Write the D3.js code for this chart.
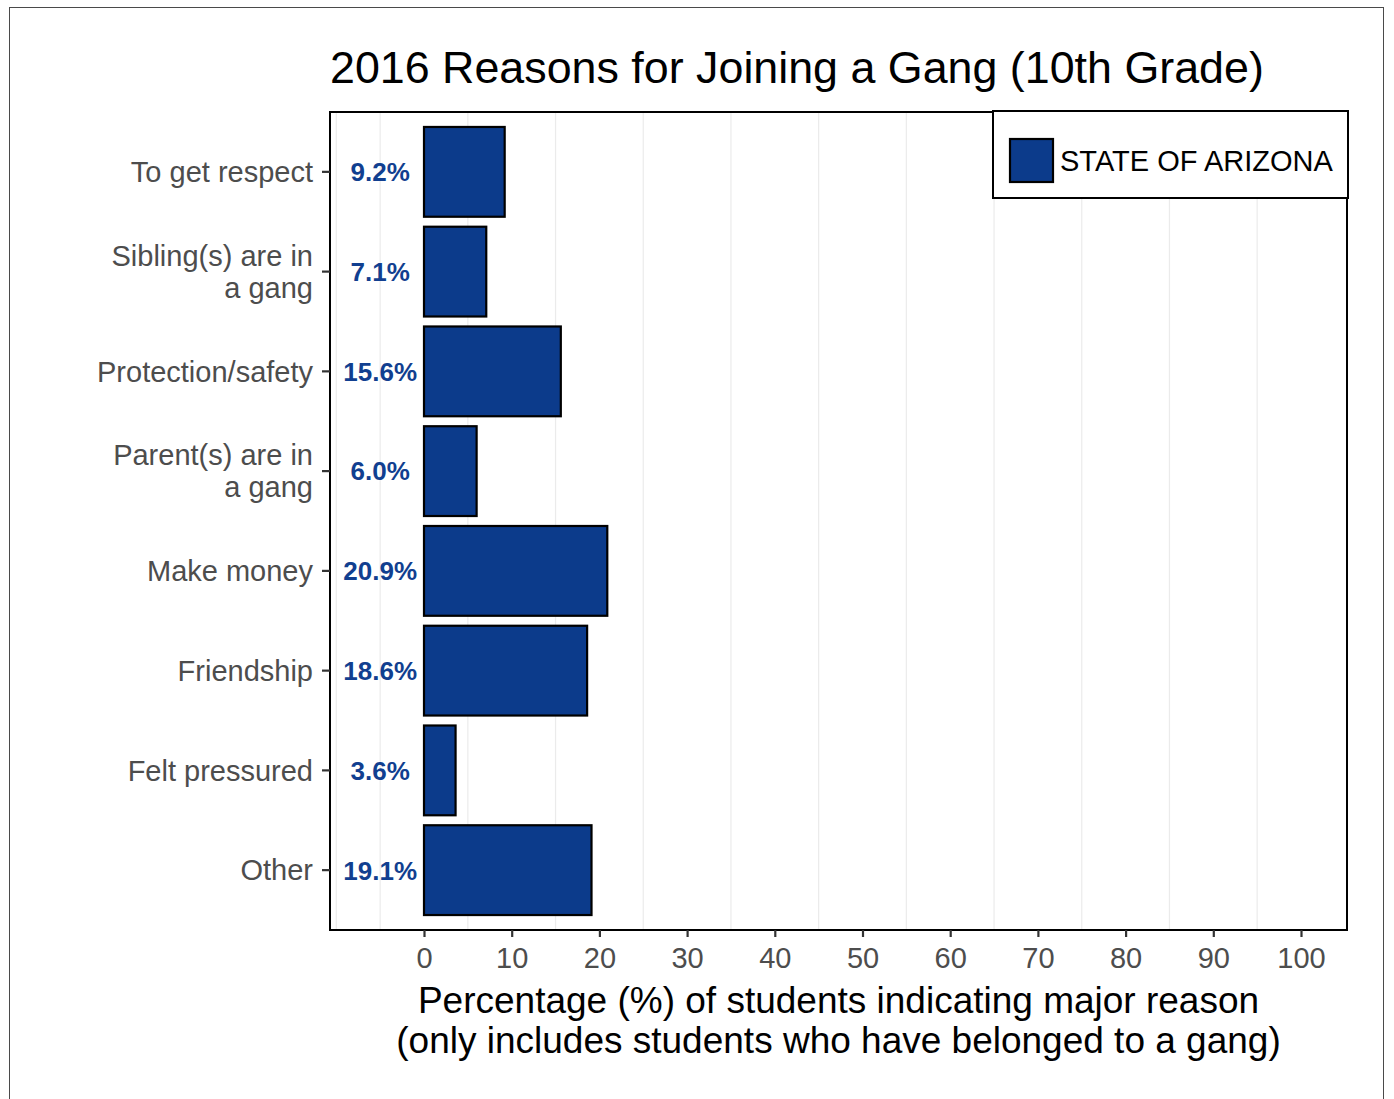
<!DOCTYPE html>
<html>
<head>
<meta charset="utf-8">
<script src="https://cdn.jsdelivr.net/npm/d3@7"></script>
<style>
  html, body { margin: 0; padding: 0; background: #fff; }
  svg { display: block; font-family: "Liberation Sans", Arial, Helvetica, sans-serif; }
</style>
</head>
<body>
<svg id="chart" width="1394" height="1099"></svg>
<script>
// Reasons for joining a gang, 10th grade, 2016
const categories = [
  "To get respect",
  "Sibling(s) are in\na gang",
  "Protection/safety",
  "Parent(s) are in\na gang",
  "Make money",
  "Friendship",
  "Felt pressured",
  "Other"
];
const values = [9.2, 7.1, 15.6, 6.0, 20.9, 18.6, 3.6, 19.1];
const valueLabels = ["9.2%", "7.1%", "15.6%", "6.0%", "20.9%", "18.6%", "3.6%", "19.1%"];
const xTicks = [0, 10, 20, 30, 40, 50, 60, 70, 80, 90, 100];
const gridValues = [-10, -5, 5, 15, 25, 35, 45, 55, 65, 75, 85, 95];
const seriesName = "STATE OF ARIZONA";

const barFill = "#0c3b8b";
const labelColor = "#113f90";

const svg = d3.select("#chart");

// outer frame of the figure
svg.append("rect")
  .attr("x", 9.5).attr("y", 7.5)
  .attr("width", 1374).attr("height", 1110)
  .attr("fill", "none").attr("stroke", "#4a4a4a").attr("stroke-width", 1);

const panel = { left: 330, right: 1347, top: 112, bottom: 930 };

const x = d3.scaleLinear().domain([0, 100]).range([424, 1301]);
const y = d3.scaleBand()
  .domain(categories)
  .range([panel.top, panel.bottom])
  .paddingInner(0.1)
  .paddingOuter(0.15);

// vertical grid lines
svg.append("g")
  .selectAll("line")
  .data(gridValues)
  .join("line")
  .attr("x1", d => x(d)).attr("x2", d => x(d))
  .attr("y1", panel.top).attr("y2", panel.bottom)
  .attr("stroke", "#ebebeb").attr("stroke-width", 1.2);

// bars
svg.append("g")
  .selectAll("rect")
  .data(values)
  .join("rect")
  .attr("x", x(0))
  .attr("y", (d, i) => y(categories[i]))
  .attr("width", d => x(d) - x(0))
  .attr("height", y.bandwidth())
  .attr("fill", barFill)
  .attr("stroke", "#000").attr("stroke-width", 2.2);

// value labels left of each bar
svg.append("g")
  .selectAll("text")
  .data(values)
  .join("text")
  .attr("x", x(-5))
  .attr("y", (d, i) => y(categories[i]) + y.bandwidth() / 2)
  .attr("dy", "0.36em")
  .attr("text-anchor", "middle")
  .attr("font-weight", "bold")
  .attr("font-size", 26)
  .attr("fill", labelColor)
  .text((d, i) => valueLabels[i]);

// panel border
svg.append("rect")
  .attr("x", panel.left).attr("y", panel.top)
  .attr("width", panel.right - panel.left).attr("height", panel.bottom - panel.top)
  .attr("fill", "none").attr("stroke", "#000").attr("stroke-width", 2);

// x axis
const xAxis = svg.append("g")
  .attr("transform", `translate(0,${panel.bottom})`)
  .call(d3.axisBottom(x).tickValues(xTicks).tickSize(7).tickPadding(10).tickFormat(d3.format("d")));
xAxis.select(".domain").remove();
xAxis.selectAll(".tick line").attr("stroke", "#333").attr("stroke-width", 2.2);
xAxis.selectAll(".tick text")
  .attr("font-family", "'Liberation Sans', Arial, sans-serif")
  .attr("font-size", 29).attr("fill", "#4d4d4d");

// y axis (category labels)
const yAxis = svg.append("g")
  .attr("transform", `translate(${panel.left},0)`)
  .call(d3.axisLeft(y).tickSize(8).tickPadding(8).tickFormat(""));
yAxis.select(".domain").remove();
yAxis.selectAll(".tick line").attr("stroke", "#333").attr("stroke-width", 2.2);
yAxis.selectAll(".tick").each(function(d) {
  const lines = d.split("\n");
  const t = d3.select(this).append("text")
    .attr("x", -17)
    .attr("text-anchor", "end")
    .attr("font-family", "'Liberation Sans', Arial, sans-serif")
    .attr("font-size", 29)
    .attr("fill", "#4d4d4d");
  const lh = 32;
  lines.forEach((ln, k) => {
    t.append("tspan")
      .attr("x", -17)
      .attr("y", (k - (lines.length - 1) / 2) * lh)
      .attr("dy", "0.35em")
      .text(ln);
  });
});

// title
svg.append("text")
  .attr("x", panel.left).attr("y", 83)
  .attr("font-size", 44.8).attr("fill", "#000")
  .text("2016 Reasons for Joining a Gang (10th Grade)");

// x axis title
const cx = (panel.left + panel.right) / 2;
const xt = svg.append("text")
  .attr("text-anchor", "middle")
  .attr("font-size", 37).attr("fill", "#000");
xt.append("tspan").attr("x", cx).attr("y", 1013).text("Percentage (%) of students indicating major reason");
xt.append("tspan").attr("x", cx).attr("y", 1053).text("(only includes students who have belonged to a gang)");

// legend
const lg = svg.append("g");
lg.append("rect")
  .attr("x", 993).attr("y", 111).attr("width", 355).attr("height", 87)
  .attr("fill", "#fff").attr("stroke", "#000").attr("stroke-width", 2);
lg.append("rect")
  .attr("x", 1010).attr("y", 139).attr("width", 43).attr("height", 43)
  .attr("fill", barFill).attr("stroke", "#000").attr("stroke-width", 2.2);
lg.append("text")
  .attr("x", 1060).attr("y", 161).attr("dy", "0.36em")
  .attr("font-size", 29).attr("fill", "#000")
  .text(seriesName);
</script>
</body>
</html>
